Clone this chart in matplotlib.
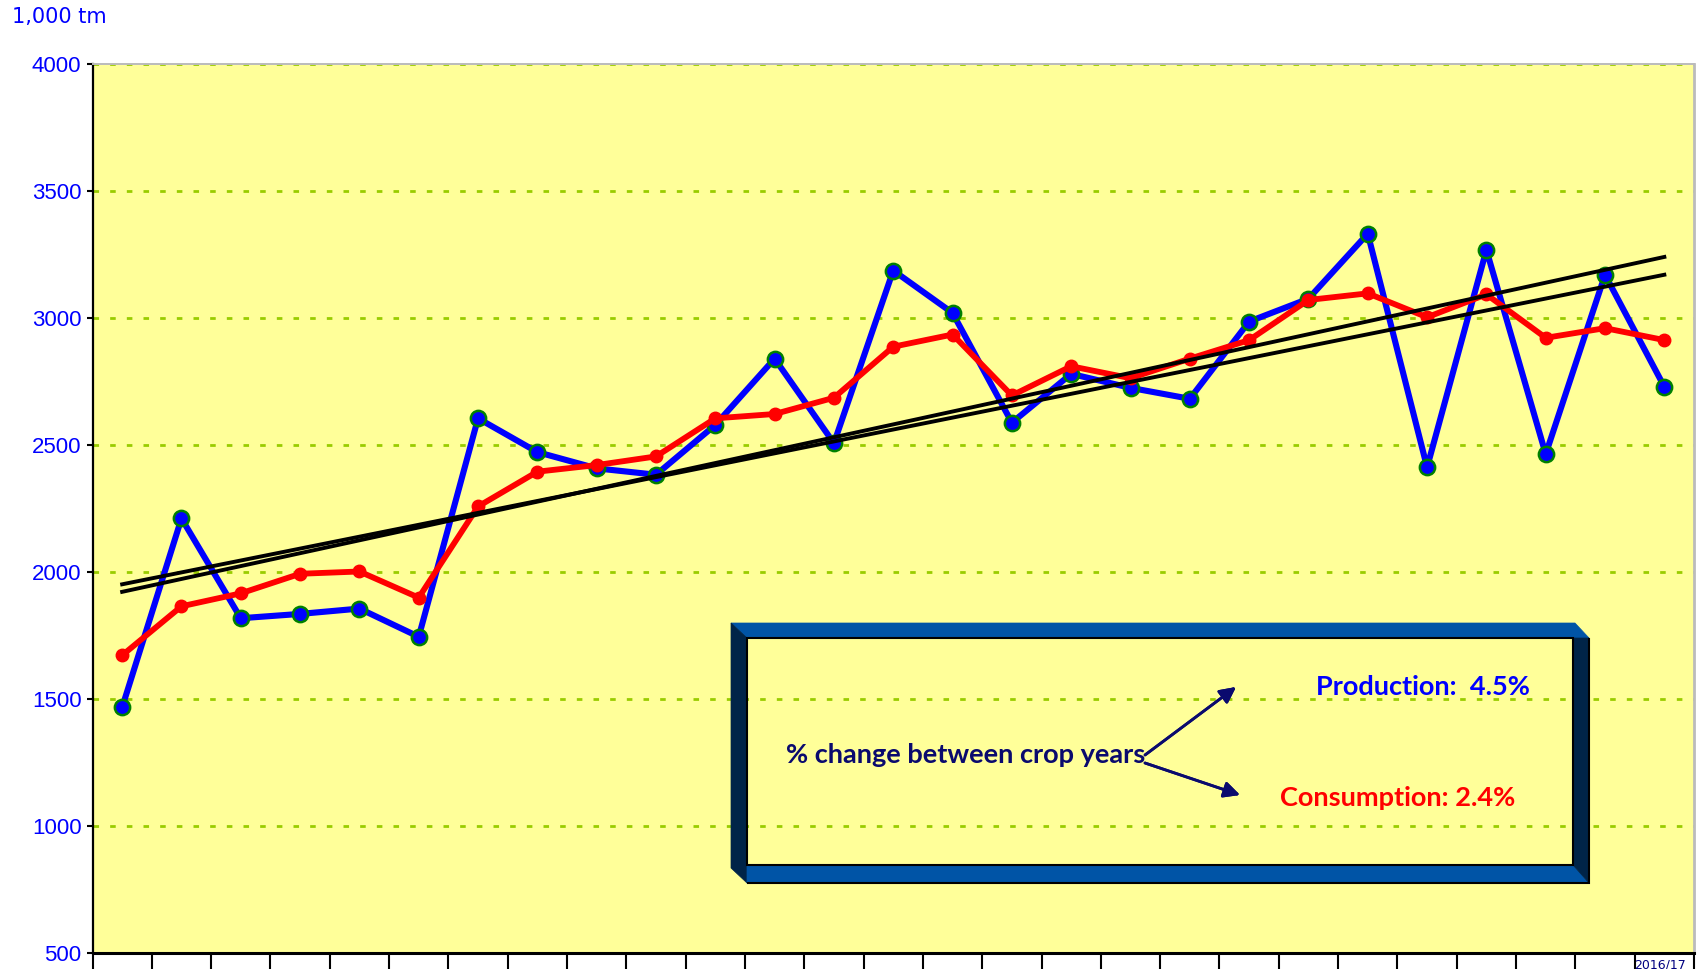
import matplotlib
matplotlib.use("Agg")
import matplotlib.pyplot as plt
import numpy as np
from matplotlib.patches import Polygon

# crop years 1990/91 .. 2016/17
crop_years = ["1990/91", "1991/92", "1992/93", "1993/94", "1994/95", "1995/96",
              "1996/97", "1997/98", "1998/99", "1999/00", "2000/01", "2001/02",
              "2002/03", "2003/04", "2004/05", "2005/06", "2006/07", "2007/08",
              "2008/09", "2009/10", "2010/11", "2011/12", "2012/13", "2013/14",
              "2014/15", "2015/16", "2016/17"]

# 1,000 tm
production = [1467, 2211, 1818, 1835, 1856, 1745, 2605, 2472, 2408, 2383, 2579,
              2840, 2507, 3187, 3020, 2588, 2780, 2725, 2682, 2986, 3076, 3332,
              2412, 3268, 2464, 3170, 2729]
consumption = [1672, 1865, 1916, 1993, 2002, 1899, 2258, 2395, 2421, 2455, 2605,
               2622, 2686, 2887, 2935, 2695, 2810, 2763, 2840, 2913, 3071, 3097,
               3003, 3093, 2922, 2960, 2913]

prod_change = "4.5%"
cons_change = "2.4%"

W, H = 1705, 969


def fx(px):
    return px / W


def fy(py):
    return (H - py) / H


fig = plt.figure(figsize=(W / 100, H / 100), dpi=100)
ax = fig.add_axes([fx(92.5), fy(953), fx(1694) - fx(92.5), fy(64) - fy(953)])
ax.set_facecolor("#FFFF99")

x = np.arange(len(crop_years))

# linear trend lines
p_fit = np.polyval(np.polyfit(x, production, 1), x)
c_fit = np.polyval(np.polyfit(x, consumption, 1), x)

ax.plot(x, production, color="#0000FF", lw=4.4, marker="o", ms=11,
        mfc="#0000FF", mec="#008000", mew=1.8, zorder=3)
ax.plot(x, consumption, color="#FF0000", lw=4.2, marker="o", ms=9,
        mfc="#FF0000", mec="#FF0000", zorder=4)
ax.plot(x, p_fit, color="black", lw=2.8, zorder=5)
ax.plot(x, c_fit, color="black", lw=2.8, zorder=5)

ax.set_xlim(-0.5, len(crop_years) - 0.5)
ax.set_ylim(500, 4000)
ax.set_yticks(np.arange(500, 4001, 500))
ax.set_xticks(np.arange(-0.5, len(crop_years), 1))
ax.set_xticklabels([])
ax.tick_params(axis="y", colors="black", labelcolor="#0000FF", labelsize=16,
               length=4.5, width=1.5, pad=3.5, direction="out")
ax.tick_params(axis="x", length=12, width=1.5, direction="out", color="black")
for lab in ax.get_yticklabels():
    lab.set_family("Liberation Sans")

ax.set_axisbelow(True)
ax.yaxis.grid(True, color="#99CC00", lw=2.0, ls=(0, (2, 4)))
ax.xaxis.grid(False)

ax.spines["left"].set_color("black")
ax.spines["left"].set_linewidth(1.6)
ax.spines["bottom"].set_color("black")
ax.spines["bottom"].set_linewidth(2.2)
ax.spines["top"].set_color("#BBBBBB")
ax.spines["top"].set_linewidth(1.4)
ax.spines["right"].set_color("#BBBBBB")
ax.spines["right"].set_linewidth(2.0)

fig.text(fx(12), fy(17), "1,000 tm", color="#0000FF", fontsize=15,
         family="DejaVu Sans", ha="left", va="center")

# last crop year label (cut off at the bottom edge)
fig.text(fx(1660), fy(958), crop_years[-1], color="#000080", fontsize=9,
         family="DejaVu Sans", ha="center", va="top")

# 3D framed box
blue = "#0054A6"
dark = "#002448"
faces = [
    ([(731, 623), (1575, 623), (1589, 638), (747, 638)], blue),
    ([(731, 623), (747, 638), (747, 883), (731, 868)], dark),
    ([(747, 865), (1573, 865), (1589, 883), (747, 883)], blue),
    ([(1573, 638), (1589, 638), (1589, 883), (1573, 865)], dark),
]
for pts, col in faces:
    poly = Polygon([(fx(a), fy(b)) for a, b in pts], closed=True,
                   facecolor=col, edgecolor=col, lw=0.5,
                   transform=fig.transFigure, zorder=6)
    fig.add_artist(poly)
inner = Polygon([(fx(747), fy(638)), (fx(1573), fy(638)), (fx(1573), fy(865)),
                 (fx(747), fy(865))], closed=True, facecolor="none",
                edgecolor="black", lw=1.5, transform=fig.transFigure, zorder=7)
fig.add_artist(inner)
outer = Polygon([(fx(1589), fy(638)), (fx(1589), fy(883)), (fx(747), fy(883))],
                closed=False, facecolor="none", edgecolor="black", lw=1.5,
                transform=fig.transFigure, zorder=7)
fig.add_artist(outer)

navy = "#0A0A6E"
fig.text(fx(786), fy(755), "% change between crop years", color=navy,
         fontsize=19.5, fontweight="bold", family="Lato", ha="left", va="center")
fig.text(fx(1316), fy(687), "Production:  " + prod_change, color="#0000FF",
         fontsize=19.5, fontweight="bold", family="Lato", ha="left", va="center")
fig.text(fx(1280), fy(798), "Consumption: " + cons_change, color="#FF0000",
         fontsize=19.5, fontweight="bold", family="Lato", ha="left", va="center")

arrow = dict(arrowstyle="-|>", color=navy, lw=2, mutation_scale=24,
             shrinkA=0, shrinkB=0)
fig.add_artist(plt.annotate("", xy=(fx(1236), fy(687)), xytext=(fx(1145), fy(755)),
                            xycoords="figure fraction", textcoords="figure fraction",
                            arrowprops=arrow))
fig.add_artist(plt.annotate("", xy=(fx(1240), fy(795)), xytext=(fx(1145), fy(763)),
                            xycoords="figure fraction", textcoords="figure fraction",
                            arrowprops=arrow))

fig.savefig("out.png", dpi=100, facecolor="white")
